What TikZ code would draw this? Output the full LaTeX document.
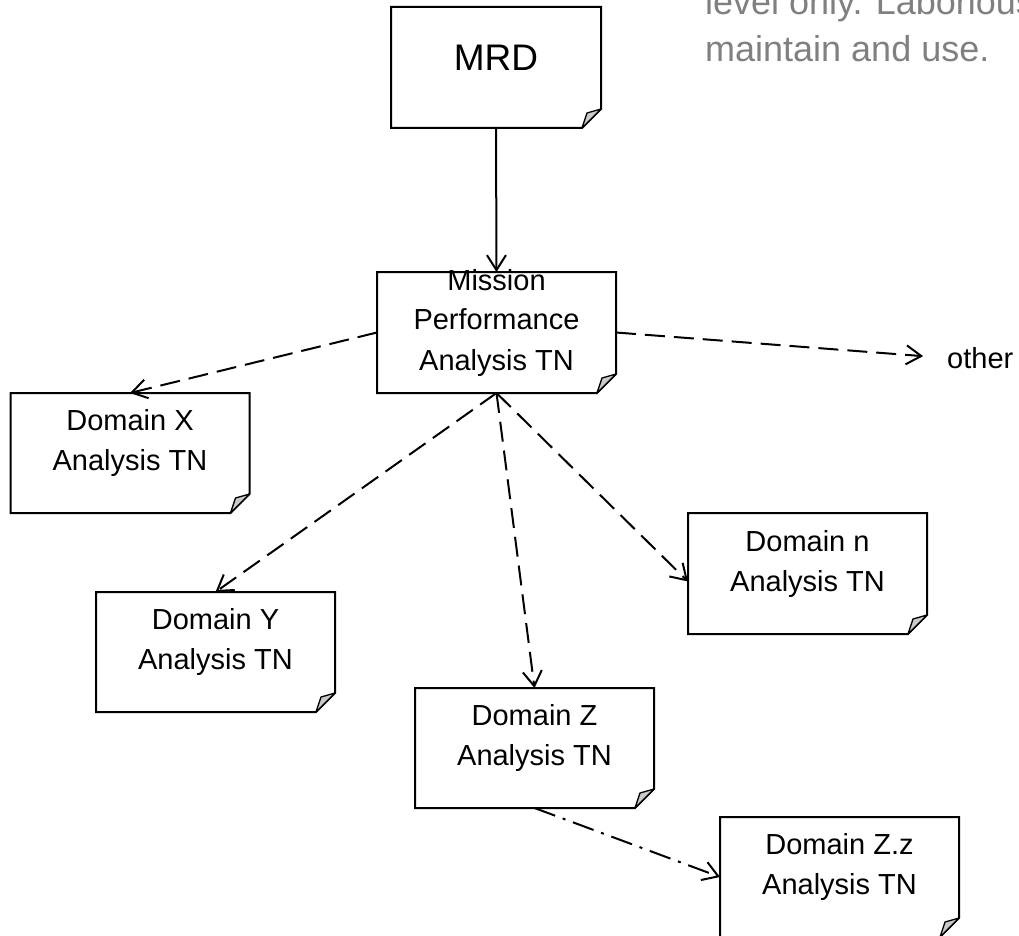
\documentclass[tikz,border=0pt]{standalone}
\usepackage{fontspec}
\setmainfont{Liberation Sans}
\usetikzlibrary{arrows.meta}
\begin{document}
\begin{tikzpicture}[x=1pt,y=-1pt,
  box/.style={minimum width=239pt, minimum height=120pt, inner sep=0pt, outer sep=0pt},
  outline/.style={draw=black, line width=2pt, fill=white, line join=miter},
  fold/.style={draw=black, line width=1.3pt, fill=gray!42, line join=round},
  boxtext/.style={font=\fontsize{29}{40}\selectfont, align=center, inner sep=0pt},
  link/.style={draw=black, line width=2pt,
    -{Straight Barb[length=15pt,width=19pt,line width=2pt]}},
  dashlink/.style={link, dash pattern=on 20pt off 9pt},
  dotlink/.style={link, dash pattern=on 22pt off 8pt on 3pt off 8pt},
  graytext/.style={anchor=base west, inner sep=0pt, text=gray,
    font=\fontsize{36}{47}\selectfont},
]
\useasboundingbox (0,0) rectangle (1019,936);
\clip (0,0) rectangle (1019,936);

% document boxes
\node[box, minimum width=210pt, minimum height=121pt] (mrd) at (496,67.5) {};
\node[box, minimum height=121pt] (mpa) at (496.5,332.5) {};
\node[box] (dx)  at (130,453) {};
\node[box] (dy)  at (215.5,652) {};
\node[box] (dz)  at (534.5,748) {};
\node[box] (dzz) at (839.5,877) {};
\node[box, minimum height=121pt] (dn) at (807.5,573.5) {};

% note outline with a dog-eared lower right corner
\foreach \n in {mrd,mpa,dx,dy,dz,dzz,dn}{
  \draw[outline] (\n.north west) -- (\n.north east)
    -- ([yshift=19pt]\n.south east) -- ([xshift=-19pt]\n.south east)
    -- (\n.south west) -- cycle;
  \filldraw[fold] ([yshift=19pt]\n.south east) -- ([xshift=-19pt]\n.south east)
    -- ([shift={(-14pt,15pt)}]\n.south east) -- cycle;
}

\node[boxtext, anchor=west] (other) at (947,358) {other};

% connectors
\draw[link] (mrd.south) -- (mpa.north);
\draw[dashlink] (mpa.west) -- (dx.north);
\draw[dashlink, shorten >=24pt] (mpa.east) -- (other.west);
\draw[dashlink] (mpa.south) -- (dy.north);
\draw[dashlink] (mpa.south) -- (dz.north);
\draw[dashlink] (mpa.south) -- ([yshift=-8pt]dn.west);
\draw[dotlink] (dz.south) -- (dzz.west);

% labels
\node[boxtext, font=\fontsize{37}{44}\selectfont] (mrd-t) at ([yshift=10pt]mrd.center) {MRD};
\node[boxtext] (mpa-t) at ([yshift=10pt]mpa.center) {Mission\\Performance\\Analysis TN};
\node[boxtext] (dx-t)  at ([yshift=10pt]dx.center)  {Domain X\\Analysis TN};
\node[boxtext] (dy-t)  at ([yshift=10pt]dy.center)  {Domain Y\\Analysis TN};
\node[boxtext] (dz-t)  at ([yshift=10pt]dz.center)  {Domain Z\\Analysis TN};
\node[boxtext] (dzz-t) at ([yshift=10pt]dzz.center) {Domain Z.z\\Analysis TN};
\node[boxtext] (dn-t)  at ([yshift=10pt]dn.center)  {Domain n\\Analysis TN};

\node[graytext] (note1) at (705,15) {level only. Laborious to};
\node[graytext] (note2) at (705,62) {maintain and use.};
\end{tikzpicture}
\end{document}
